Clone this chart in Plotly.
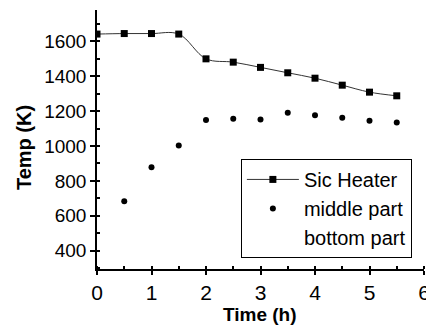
import plotly.graph_objects as go

time_h = [0, 0.5, 1, 1.5, 2, 2.5, 3, 3.5, 4, 4.5, 5, 5.5]
sic_heater = [1642, 1645, 1645, 1642, 1500, 1481, 1451, 1420, 1389, 1349, 1309, 1288]
mid_time = [0.5, 1, 1.5, 2, 2.5, 3, 3.5, 4, 4.5, 5, 5.5]
middle_part = [683, 878, 1003, 1149, 1156, 1152, 1191, 1177, 1162, 1145, 1135]
bottom_time = [None]
bottom_part = [None]

fig = go.Figure()
fig.add_trace(go.Scatter(
    x=time_h, y=sic_heater, name="Sic Heater", mode="lines+markers",
    line=dict(color="#333333", width=1, shape="spline", smoothing=1.0),
    marker=dict(symbol="square", size=7, color="black"),
))
fig.add_trace(go.Scatter(
    x=mid_time, y=middle_part, name="middle part", mode="markers",
    marker=dict(symbol="circle", size=6, color="black"),
))
fig.add_trace(go.Scatter(
    x=bottom_time, y=bottom_part, name="bottom part", mode="markers",
    marker=dict(symbol="circle", size=6, color="rgba(0,0,0,0)"),
))

# page body has an 8px margin, so the figure is sized/offset to compensate
fig.update_layout(
    width=426, height=322,
    margin=dict(l=89, r=10, t=2, b=61),
    paper_bgcolor="white", plot_bgcolor="white",
    font=dict(family="Liberation Sans, Arial", size=18, color="black"),
    showlegend=True,
    legend=dict(
        x=0.44, y=0.425, xanchor="left", yanchor="top",
        bordercolor="black", borderwidth=1, bgcolor="white",
        font=dict(size=20), itemwidth=52, tracegroupgap=0,
    ),
    annotations=[
        dict(
            text="<b>Temp (K)</b>", textangle=-90, showarrow=False,
            xref="paper", yref="paper", x=-0.2232, y=0.467,
            xanchor="center", yanchor="middle", font=dict(size=20),
        ),
        dict(
            text="<b>Time (h)</b>", showarrow=False,
            xref="paper", yref="paper", x=0.4985, y=-0.1776,
            xanchor="center", yanchor="middle", font=dict(size=19),
        ),
    ],
)
fig.update_xaxes(
    range=[0, 6], dtick=1, tick0=0, automargin=False,
    tickfont=dict(size=21), ticklabeloverflow="allow",
    showline=True, linecolor="black", linewidth=1.5,
    ticks="outside", ticklen=4, tickwidth=1.5, tickcolor="black",
    minor=dict(dtick=0.5, ticks="inside", ticklen=3, tickcolor="black"),
    showgrid=False, zeroline=False,
)
fig.update_yaxes(
    range=[295, 1780], automargin=False,
    tickvals=[400, 600, 800, 1000, 1200, 1400, 1600],
    tickfont=dict(size=19),
    showline=True, linecolor="black", linewidth=1.5,
    ticks="outside", ticklen=5, tickwidth=1.5, tickcolor="black",
    minor=dict(dtick=100, ticks="inside", ticklen=3, tickcolor="black"),
    showgrid=False, zeroline=False,
)

fig.write_html("out.html")
